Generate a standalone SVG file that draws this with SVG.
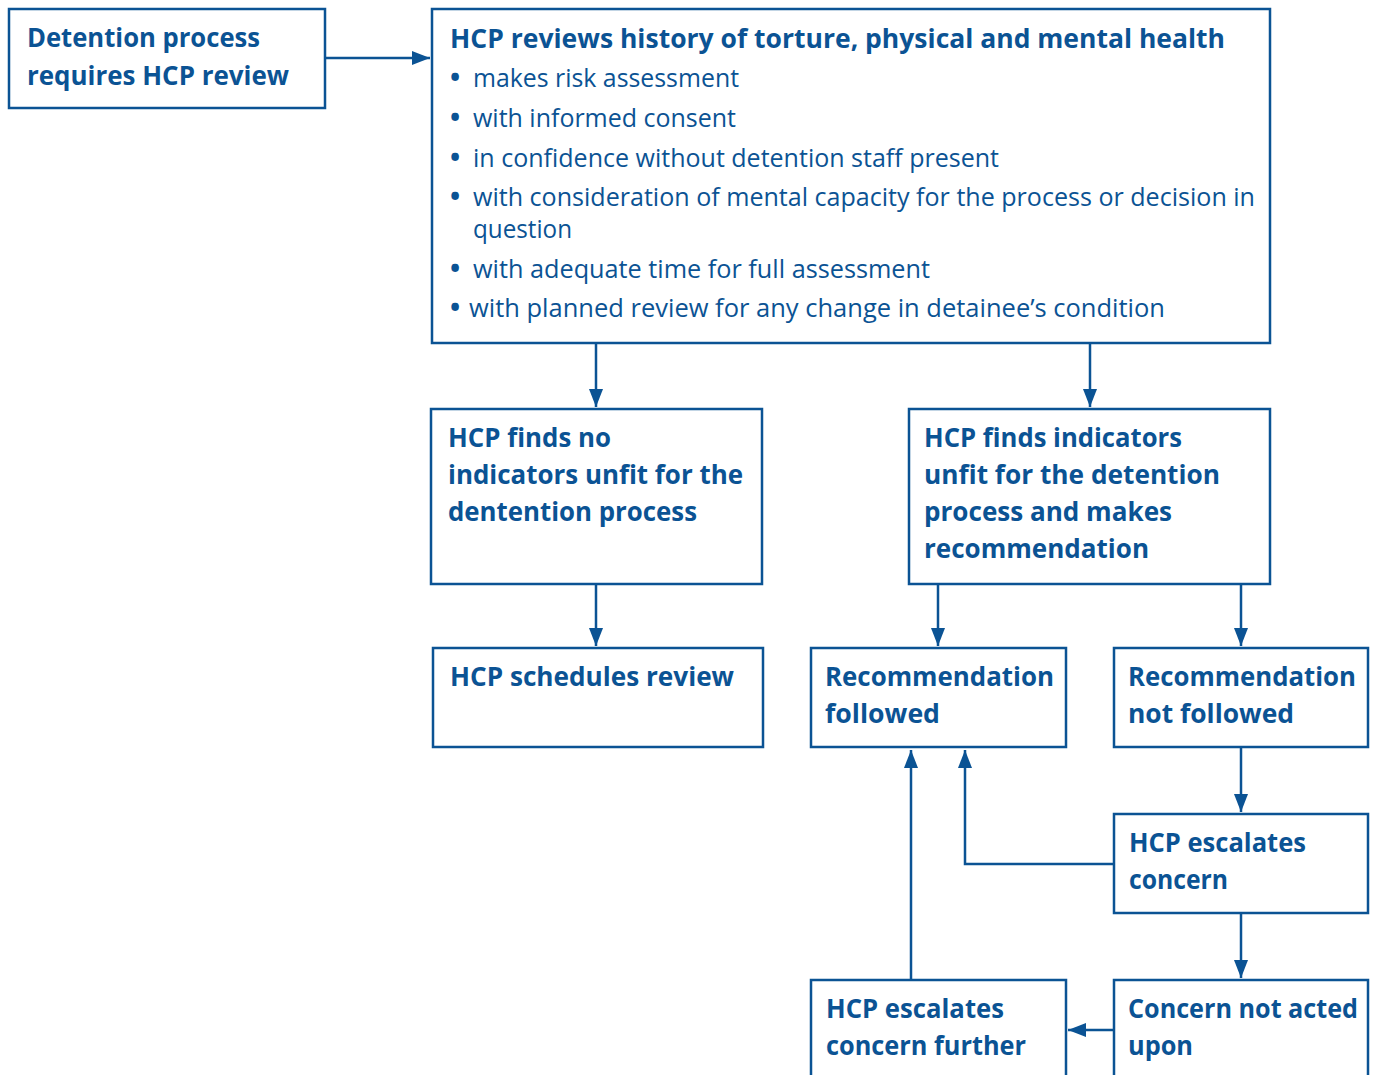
<svg xmlns="http://www.w3.org/2000/svg" width="1375" height="1075" viewBox="0 0 1375 1075">
<style>
.box{fill:#ffffff;stroke:#0b5394;stroke-width:2.5}
.t{font-family:"Open Sans","Noto Sans","Liberation Sans",sans-serif;font-weight:700;font-size:27px;fill:#0b5394}
.r{font-family:"Open Sans","Noto Sans","Liberation Sans",sans-serif;font-weight:400;font-size:25px;fill:#0b5394}
.b{font-weight:700;font-size:27px}
.c{fill:none;stroke:#0b5394;stroke-width:2.5}
</style>
<defs>
<marker id="ah" viewBox="0 0 18 14" refX="18" refY="7" markerWidth="18" markerHeight="14" markerUnits="userSpaceOnUse" orient="auto">
<path d="M0,0 L18,7 L0,14 Z" fill="#0b5394"/>
</marker>
</defs>
<rect width="1375" height="1075" fill="#ffffff"/>
<g id="connectors">
<path class="c" d="M325,58 H430" marker-end="url(#ah)"/>
<path class="c" d="M596,343 V407" marker-end="url(#ah)"/>
<path class="c" d="M1090,343 V407" marker-end="url(#ah)"/>
<path class="c" d="M596,584 V646" marker-end="url(#ah)"/>
<path class="c" d="M938,584 V646" marker-end="url(#ah)"/>
<path class="c" d="M1241,584 V646" marker-end="url(#ah)"/>
<path class="c" d="M1241,747 V812" marker-end="url(#ah)"/>
<path class="c" d="M1114,864 H965 V750" marker-end="url(#ah)"/>
<path class="c" d="M911,980 V750" marker-end="url(#ah)"/>
<path class="c" d="M1241,913 V978" marker-end="url(#ah)"/>
<path class="c" d="M1114,1030 H1068" marker-end="url(#ah)"/>
</g>
<g id="n1">
<rect class="box" x="9" y="9" width="316" height="99"/>
<text class="t" x="27" y="47" textLength="233" lengthAdjust="spacingAndGlyphs">Detention process</text>
<text class="t" x="27" y="85" textLength="262" lengthAdjust="spacingAndGlyphs">requires HCP review</text>
</g>
<g id="n2">
<rect class="box" x="432" y="9" width="838" height="334"/>
<text class="t" x="450" y="48" textLength="775" lengthAdjust="spacingAndGlyphs">HCP reviews history of torture, physical and mental health</text>
<g class="r">
<text class="b" x="450" y="87">•</text><text x="473" y="87" textLength="266" lengthAdjust="spacingAndGlyphs">makes risk assessment</text>
<text class="b" x="450" y="127">•</text><text x="473" y="127" textLength="263" lengthAdjust="spacingAndGlyphs">with informed consent</text>
<text class="b" x="450" y="167">•</text><text x="473" y="167" textLength="526" lengthAdjust="spacingAndGlyphs">in confidence without detention staff present</text>
<text class="b" x="450" y="206">•</text><text x="473" y="206" textLength="782" lengthAdjust="spacingAndGlyphs">with consideration of mental capacity for the process or decision in</text>
<text x="473" y="238" textLength="99" lengthAdjust="spacingAndGlyphs">question</text>
<text class="b" x="450" y="278">•</text><text x="473" y="278" textLength="457" lengthAdjust="spacingAndGlyphs">with adequate time for full assessment</text>
<text class="b" x="450" y="317">•</text><text x="469" y="317" textLength="696" lengthAdjust="spacingAndGlyphs">with planned review for any change in detainee’s condition</text>
</g>
</g>
<g id="n3">
<rect class="box" x="431" y="409" width="331" height="175"/>
<text class="t" x="448" y="447" textLength="163" lengthAdjust="spacingAndGlyphs">HCP finds no</text>
<text class="t" x="448" y="484" textLength="295" lengthAdjust="spacingAndGlyphs">indicators unfit for the</text>
<text class="t" x="448" y="521" textLength="249" lengthAdjust="spacingAndGlyphs">dentention process</text>
</g>
<g id="n4">
<rect class="box" x="909" y="409" width="361" height="175"/>
<text class="t" x="924" y="447" textLength="258" lengthAdjust="spacingAndGlyphs">HCP finds indicators</text>
<text class="t" x="924" y="484" textLength="296" lengthAdjust="spacingAndGlyphs">unfit for the detention</text>
<text class="t" x="924" y="521" textLength="248" lengthAdjust="spacingAndGlyphs">process and makes</text>
<text class="t" x="924" y="558" textLength="225" lengthAdjust="spacingAndGlyphs">recommendation</text>
</g>
<g id="n5">
<rect class="box" x="433" y="648" width="330" height="99"/>
<text class="t" x="450" y="686" textLength="284" lengthAdjust="spacingAndGlyphs">HCP schedules review</text>
</g>
<g id="n6">
<rect class="box" x="811" y="648" width="255" height="99"/>
<text class="t" x="825" y="686" textLength="229" lengthAdjust="spacingAndGlyphs">Recommendation</text>
<text class="t" x="825" y="723" textLength="115" lengthAdjust="spacingAndGlyphs">followed</text>
</g>
<g id="n7">
<rect class="box" x="1114" y="648" width="254" height="99"/>
<text class="t" x="1128" y="686" textLength="228" lengthAdjust="spacingAndGlyphs">Recommendation</text>
<text class="t" x="1128" y="723" textLength="166" lengthAdjust="spacingAndGlyphs">not followed</text>
</g>
<g id="n8">
<rect class="box" x="1114" y="814" width="254" height="99"/>
<text class="t" x="1129" y="852" textLength="177" lengthAdjust="spacingAndGlyphs">HCP escalates</text>
<text class="t" x="1129" y="889" textLength="99" lengthAdjust="spacingAndGlyphs">concern</text>
</g>
<g id="n9">
<rect class="box" x="811" y="980" width="255" height="110"/>
<text class="t" x="826" y="1018" textLength="178" lengthAdjust="spacingAndGlyphs">HCP escalates</text>
<text class="t" x="826" y="1055" textLength="200" lengthAdjust="spacingAndGlyphs">concern further</text>
</g>
<g id="n10">
<rect class="box" x="1114" y="980" width="254" height="110"/>
<text class="t" x="1128" y="1018" textLength="230" lengthAdjust="spacingAndGlyphs">Concern not acted</text>
<text class="t" x="1128" y="1055" textLength="65" lengthAdjust="spacingAndGlyphs">upon</text>
</g>
</svg>
